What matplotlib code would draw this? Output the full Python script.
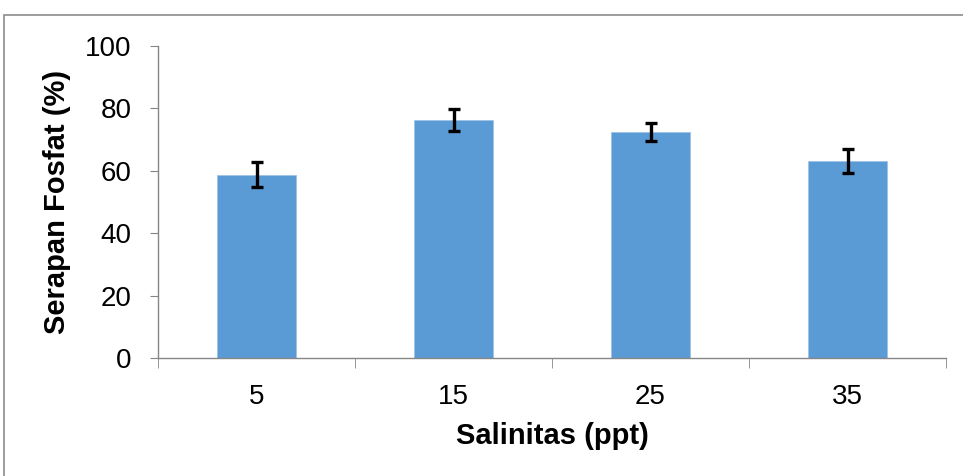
import matplotlib.pyplot as plt
from matplotlib.patches import Rectangle

salinitas = ["5", "15", "25", "35"]
serapan = [58.7, 76.3, 72.5, 63.1]
sd = [4.0, 3.6, 2.9, 3.9]
yticks = [0, 20, 40, 60, 80, 100]

plt.rcParams["font.family"] = ["Liberation Sans", "DejaVu Sans"]

fig = plt.figure(figsize=(9.63, 4.76), dpi=100)
ax = fig.add_axes([158 / 963, 1 - 358 / 476, (946 - 158) / 963, (358 - 46) / 476])

x = list(range(len(salinitas)))
ax.bar(x, serapan, width=0.40, color="#5B9BD5", edgecolor="#9DC3E6", linewidth=0.6, zorder=2)
ax.errorbar(x, serapan, yerr=sd, fmt="none", ecolor="black", elinewidth=2.4,
            capsize=4.6, capthick=2.4, zorder=3)

ax.set_xlim(-0.5, len(salinitas) - 0.5)
ax.set_ylim(0, 100)
ax.set_yticks(yticks)
ax.set_xticks(x)
ax.set_xticklabels(salinitas)
ax.set_xticks([i - 0.5 for i in range(len(salinitas) + 1)], minor=True)

gray = "#868686"
for s in ["top", "right"]:
    ax.spines[s].set_visible(False)
for s in ["left", "bottom"]:
    ax.spines[s].set_color(gray)
    ax.spines[s].set_linewidth(1.0)

ax.tick_params(axis="y", length=6, color=gray, pad=13, labelsize=20)
ax.tick_params(axis="x", which="major", length=0, pad=19, labelsize=20)
ax.tick_params(axis="x", which="minor", length=7, color=gray)

ax.set_xlabel("Salinitas (ppt)", fontsize=21, fontweight="bold", labelpad=8)
ax.set_ylabel("Serapan Fosfat (%)", fontsize=21, fontweight="bold", labelpad=10)

fig.patches.append(Rectangle((4 / 963, -0.1), 1.2, 1.1 - 15 / 476, transform=fig.transFigure,
                             fill=False, edgecolor="#8c8c8c", linewidth=1.2))

fig.savefig("out.png", dpi=100)
